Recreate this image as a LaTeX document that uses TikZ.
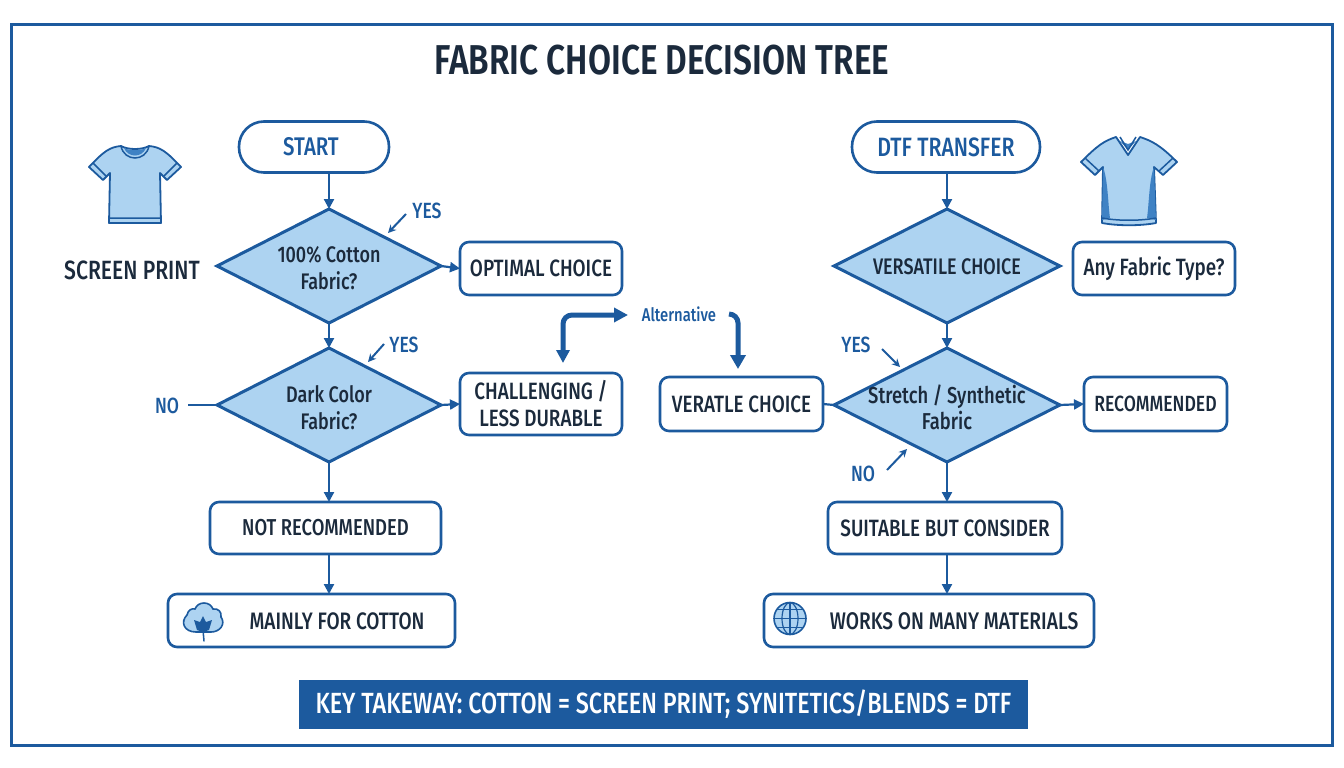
\documentclass[tikz,border=0pt]{standalone}
\usepackage{fontspec}
\setmainfont{Fira Sans Medium}[FakeStretch=0.8,BoldFont={Fira Sans SemiBold}]
\usetikzlibrary{shapes.geometric,arrows.meta}
\definecolor{navy}{HTML}{1C5A9E}
\definecolor{ink}{HTML}{1B2A3C}
\definecolor{pale}{HTML}{ADD3F1}
\definecolor{mid}{HTML}{3F82C4}
\tikzset{x=1pt,y=-1pt,
 box/.style={draw=navy,line width=2.6pt,fill=white,rounded corners=9pt,inner sep=0pt,outer sep=0pt,align=center,text=ink,font=\fontsize{23.6}{27}\selectfont},
 pill/.style={box,rounded corners=25pt,text=navy,font=\fontsize{26.5}{30}\selectfont},
 dia/.style={diamond,shape aspect=2,draw=navy,line width=3pt,fill=pale,inner sep=0pt,outer sep=0pt},
 diat/.style={align=center,text=ink,inner sep=0pt,yshift=-2.5pt,font=\fontsize{22.5}{27}\selectfont},
 lab/.style={text=navy,inner sep=0pt,font=\fontsize{22}{26}\selectfont},
 flow/.style={draw=navy,line width=2.2pt,-{Triangle[length=10pt,width=10pt]}},
 plain/.style={draw=navy,line width=2.2pt},
 note/.style={draw=navy,line width=2pt,-{Stealth[length=8pt,width=8pt]}},
 bigtip/.style={draw=navy,line width=5pt,rounded corners=9pt},
 shirt/.style={draw=navy,line width=1.8pt,fill=pale,line join=round},
}
\begin{document}
\begin{tikzpicture}
\useasboundingbox (0,0) rectangle (1344,768);
\fill[white] (0,0) rectangle (1344,768);
\node[draw=navy,line width=3.6pt,minimum width=1321pt,minimum height=721pt,inner sep=0pt] (frame) at (672,385) {};
\node[inner sep=0pt,text=ink,font=\fontsize{41.7}{44}\selectfont\bfseries] (title) at (662,60) {FABRIC CHOICE DECISION TREE};
% left column
\node[pill,minimum width=150pt,minimum height=51pt] (start) at (314,147) {};
\node[inner sep=0pt,text=navy,font=\fontsize{25.5}{30}\selectfont] (startt) at (311,147) {START};
\node[dia,minimum width=224pt,minimum height=114pt,label={[diat]center:100\% Cotton\\Fabric?}] (d1) at (329,266) {};
\node[dia,minimum width=224pt,minimum height=114pt,label={[diat]center:Dark Color\\Fabric?}] (d2) at (329,405) {};
\node[box,minimum width=162pt,minimum height=53pt] (opt) at (541,268.5) {OPTIMAL CHOICE};
\node[box,minimum width=162pt,minimum height=62pt] (chal) at (541,404) {CHALLENGING /\\LESS DURABLE};
\node[box,minimum width=231pt,minimum height=52pt,font=\fontsize{23}{27}\selectfont] (notrec) at (325.5,528) {NOT RECOMMENDED};
\node[box,minimum width=287pt,minimum height=53pt] (mainly) at (311.5,620.5) {};
\node[inner sep=0pt,text=ink,font=\fontsize{23.8}{27}\selectfont] (mainlyt) at (337,621) {MAINLY FOR COTTON};
\node[inner sep=0pt,text=ink,font=\fontsize{26.4}{30}\selectfont] (sp) at (132,270) {SCREEN PRINT};
\node[lab] (no1) at (167,406) {NO};
\node[lab] (yes1) at (427,211) {YES};
\node[lab] (yes2) at (404,345) {YES};
\coordinate (y1a) at (406,214); \coordinate (y1b) at (388,233);
\coordinate (y2a) at (384,344); \coordinate (y2b) at (368,362);
% right column
\node[pill,minimum width=188pt,minimum height=51pt] (dtf) at (946,147) {DTF TRANSFER};
\node[dia,minimum width=226pt,minimum height=114pt,label={[diat,yshift=1.5pt]center:VERSATILE CHOICE}] (d3) at (947,266) {};
\node[dia,minimum width=226pt,minimum height=114pt,label={[diat,font=\fontsize{23}{26}\selectfont]center:Stretch / Synthetic\\Fabric}] (d4) at (947,405) {};
\node[box,minimum width=162pt,minimum height=53pt] (any) at (1154,268.5) {Any Fabric Type?};
\node[box,minimum width=163pt,minimum height=54pt] (ver) at (741.5,404) {VERATLE CHOICE};
\node[box,minimum width=143pt,minimum height=54pt,font=\fontsize{22}{27}\selectfont] (rec) at (1155.5,404) {RECOMMENDED};
\node[box,minimum width=234pt,minimum height=52pt] (suit) at (945,528) {SUITABLE BUT CONSIDER};
\node[box,minimum width=330pt,minimum height=53pt] (works) at (929,620.5) {};
\node[inner sep=0pt,text=ink,font=\fontsize{24}{27}\selectfont] (workst) at (954,621) {WORKS ON MANY MATERIALS};
\node[lab] (yes3) at (856,345) {YES};
\node[lab] (no2) at (863,474) {NO};
\coordinate (y3a) at (882,349); \coordinate (y3b) at (900,367);
\coordinate (n2a) at (887,470); \coordinate (n2b) at (907,449);
% centre
\node[lab,font=\fontsize{18.5}{22}\selectfont] (alt) at (679,314) {Alternative};
\coordinate (altl) at (628,315); \coordinate (altr) at (729,314);
% banner
\node[fill=navy,text=white,minimum width=729pt,minimum height=49pt,inner sep=0pt,font=\fontsize{29.2}{32}\selectfont] (key) at (663.5,704.5) {KEY TAKEWAY: COTTON = SCREEN PRINT; SYNITETICS/BLENDS = DTF};
% connectors
\draw[flow] (d1.north |- start.south) -- (d1.north);
\draw[flow] (d1.south) -- (d2.north);
\draw[flow] (d1.east) -- (opt.west);
\draw[flow] (d2.east) -- (chal.west);
\draw[flow] (d2.south) -- (d2.south |- notrec.north);
\draw[flow] (d2.south |- notrec.south) -- (d2.south |- mainly.north);
\coordinate (no1e) at (188,405);
\draw[plain] (no1e) -- (d2.west);
\draw[flow] (d3.north |- dtf.south) -- (d3.north);
\draw[flow] (d3.south) -- (d4.north);
\draw[plain] (ver.east) -- (d4.west);
\draw[flow] (d4.east) -- (rec.west);
\draw[flow] (d4.south) -- (d4.south |- suit.north);
\draw[flow] (d4.south |- suit.south) -- (d4.south |- works.north);
\draw[note] (y1a) -- (y1b);
\draw[note] (y2a) -- (y2b);
\draw[note] (y3a) -- (y3b);
\draw[note] (n2a) -- (n2b);
\coordinate (cup) at (563,363);
\coordinate (vdn) at (738,369);
\draw[bigtip,{Triangle[length=13pt,width=13pt]}-{Triangle[length=14pt,width=14pt]}] (cup) -- (cup |- altl) -- (altl);
\draw[bigtip,-{Triangle[length=14pt,width=15pt]}] (altr) -- (vdn |- altr) -- (vdn);
% left shirt
\draw[shirt] (121,146) .. controls (128,150) and (142,150) .. (149,146) .. controls (160,147) and (166,151) .. (181,167) -- (167,180) -- (160,173) -- (161,223) -- (109,223) -- (110,173) -- (103,180) -- (89,167) .. controls (104,151) and (110,147) .. (121,146) -- cycle;
\fill[mid] (124,148) .. controls (128,158) and (142,158) .. (146,148) .. controls (140,151) and (130,151) .. (124,148) -- cycle;
\draw[navy,line width=1.5pt] (121,146) .. controls (124,162) and (146,162) .. (149,146);
\draw[navy,line width=1.5pt] (109,218) -- (161,218) (93,163) -- (106,176) (177,163) -- (164,176);
% right shirt
\draw[shirt] (1116,137) -- (1128,155) -- (1140,137) .. controls (1152,141) and (1160,145) .. (1177,162) -- (1163,175) -- (1154,167) -- (1156,223) .. controls (1140,226) and (1118,226) .. (1102,223) -- (1103,167) -- (1095,175) -- (1081,162) .. controls (1098,145) and (1104,141) .. (1116,137) -- cycle;
\fill[mid] (1103,167) .. controls (1108,180) and (1108,205) .. (1110,218) -- (1102,220) -- cycle;
\fill[mid] (1154,167) .. controls (1149,180) and (1149,205) .. (1147,218) -- (1156,220) -- cycle;
\fill[mid] (1120,141) -- (1128,150) -- (1136,141) -- (1128,144) -- cycle;
\draw[navy,line width=1.5pt] (1120,137) -- (1128,150) -- (1136,137);
\draw[navy,line width=1.5pt] (1102,218) .. controls (1118,221) and (1140,221) .. (1156,218) (1085,158) -- (1099,171) (1173,158) -- (1159,171);
% cotton icon
\draw[draw=navy,line width=1.6pt,fill=pale] (196,632) .. controls (184,632) and (180,622) .. (187,615) .. controls (188,610) and (192,608) .. (195,609) .. controls (198,601) and (210,601) .. (213,609) .. controls (218,608) and (222,612) .. (221,617) .. controls (226,624) and (220,632) .. (211,632) -- cycle;
\fill[navy] (203,616) -- (206,622) -- (212,620) -- (209,630) -- (203,632) -- (197,630) -- (194,620) -- (200,622) -- cycle;
\draw[navy,line width=1.5pt,line cap=round] (203,630) -- (204,641);
% globe icon
\draw[draw=navy,line width=1.6pt,fill=pale] (790,618.5) circle (16);
\draw[navy,line width=1.2pt] (790,602.5) -- (790,634.5) (774,618.5) -- (806,618.5) (777,609.5) -- (803,609.5) (777,627.5) -- (803,627.5);
\draw[navy,line width=1.2pt] (790,618.5) ellipse (8 and 16);
\end{tikzpicture}
\end{document}
